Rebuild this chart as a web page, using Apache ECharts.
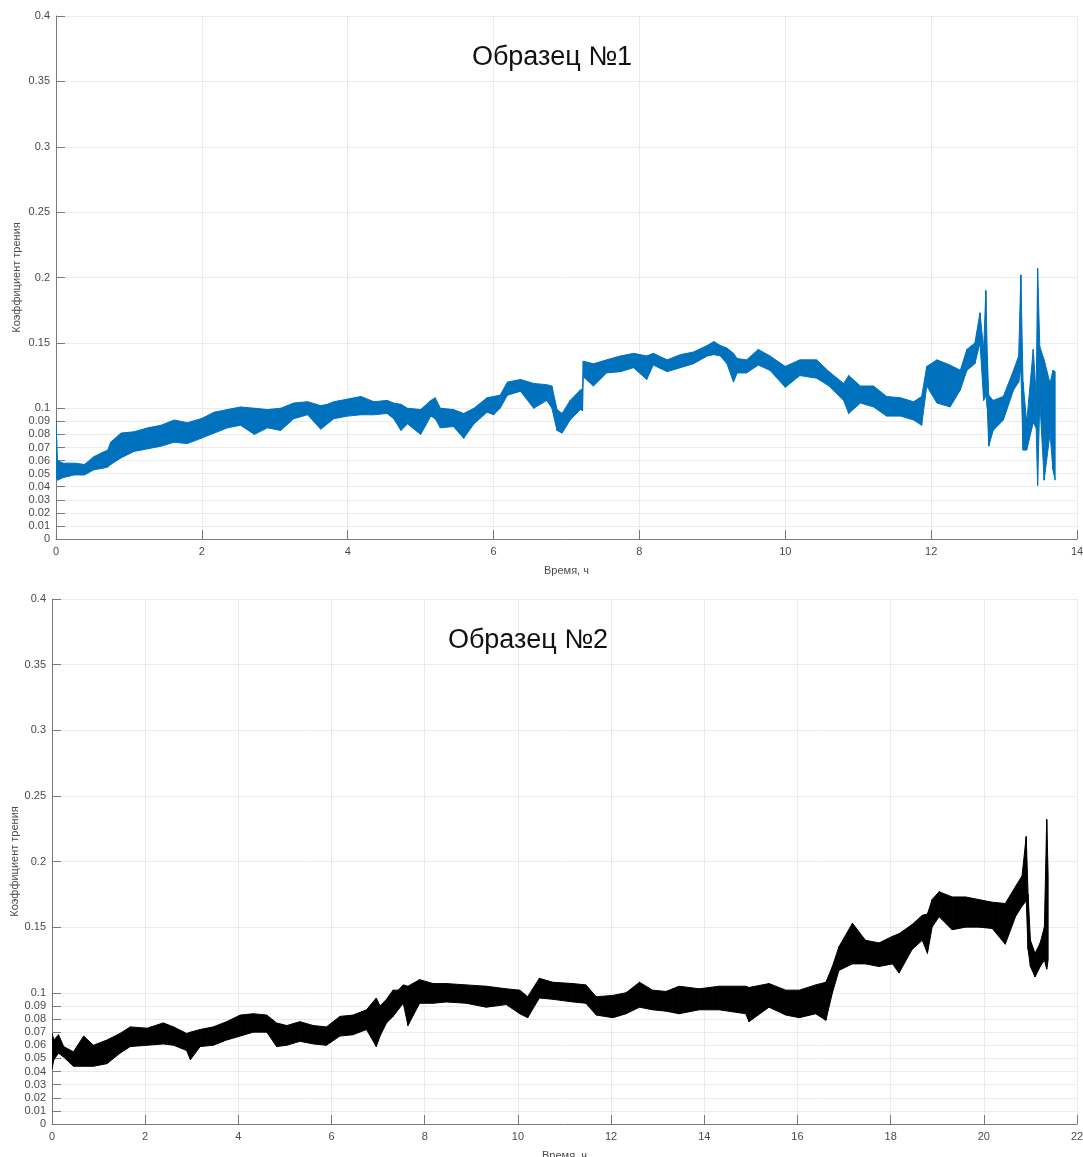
<!DOCTYPE html>
<html>
<head>
<meta charset="utf-8">
<script src="https://cdn.jsdelivr.net/npm/echarts@6/dist/echarts.min.js"></script>
<style>
  html, body { margin: 0; padding: 0; background: #fff; }
  #chart { width: 1083px; height: 1157px; }
</style>
</head>
<body>
<div id="chart"></div>
<script>
// Friction coefficient records: [time (h), lower envelope, upper envelope]
const sample1 = [
  [0.00, 0.047, 0.091], [0.02, 0.045, 0.060], [0.10, 0.047, 0.058], [0.25, 0.049, 0.058],
  [0.39, 0.049, 0.057], [0.52, 0.053, 0.063], [0.63, 0.054, 0.066], [0.71, 0.055, 0.068],
  [0.75, 0.057, 0.074], [0.89, 0.062, 0.081], [1.07, 0.067, 0.082], [1.26, 0.069, 0.085],
  [1.44, 0.071, 0.087], [1.62, 0.074, 0.091], [1.80, 0.073, 0.089], [1.99, 0.077, 0.092],
  [2.17, 0.081, 0.097], [2.35, 0.085, 0.099], [2.53, 0.087, 0.101], [2.72, 0.080, 0.100],
  [2.90, 0.085, 0.099], [3.08, 0.083, 0.100], [3.26, 0.092, 0.104], [3.45, 0.095, 0.105],
  [3.63, 0.084, 0.102], [3.72, 0.088, 0.103], [3.81, 0.092, 0.105], [4.00, 0.094, 0.107],
  [4.18, 0.095, 0.109], [4.36, 0.095, 0.105], [4.54, 0.096, 0.106], [4.63, 0.092, 0.104],
  [4.73, 0.083, 0.103], [4.82, 0.088, 0.100], [5.00, 0.080, 0.099], [5.14, 0.094, 0.106],
  [5.20, 0.092, 0.108], [5.27, 0.085, 0.100], [5.45, 0.086, 0.099], [5.59, 0.077, 0.096],
  [5.73, 0.088, 0.100], [5.91, 0.097, 0.108], [6.00, 0.095, 0.109], [6.09, 0.100, 0.110],
  [6.19, 0.110, 0.120], [6.37, 0.113, 0.122], [6.55, 0.100, 0.119], [6.73, 0.106, 0.118],
  [6.80, 0.100, 0.117], [6.87, 0.083, 0.099], [6.94, 0.081, 0.096], [7.05, 0.091, 0.106],
  [7.19, 0.099, 0.114], [7.22, 0.098, 0.115], [7.23, 0.124, 0.136], [7.37, 0.117, 0.134],
  [7.55, 0.127, 0.137], [7.74, 0.128, 0.140], [7.92, 0.131, 0.142], [8.10, 0.122, 0.140],
  [8.19, 0.133, 0.142], [8.38, 0.128, 0.137], [8.56, 0.131, 0.141], [8.74, 0.134, 0.143],
  [8.93, 0.140, 0.148], [9.02, 0.141, 0.151], [9.11, 0.140, 0.148], [9.20, 0.134, 0.146],
  [9.29, 0.120, 0.142], [9.34, 0.127, 0.138], [9.47, 0.127, 0.137], [9.63, 0.133, 0.145],
  [9.79, 0.129, 0.140], [10.00, 0.116, 0.132], [10.20, 0.125, 0.137], [10.43, 0.123, 0.137],
  [10.60, 0.117, 0.128], [10.80, 0.106, 0.119], [10.87, 0.096, 0.125], [11.03, 0.104, 0.117],
  [11.21, 0.101, 0.117], [11.39, 0.094, 0.109], [11.58, 0.094, 0.108], [11.76, 0.091, 0.105],
  [11.87, 0.087, 0.109], [11.94, 0.117, 0.132], [12.08, 0.104, 0.137], [12.26, 0.101, 0.133],
  [12.40, 0.114, 0.129], [12.49, 0.129, 0.145], [12.60, 0.134, 0.150], [12.67, 0.150, 0.173],
  [12.72, 0.106, 0.145], [12.75, 0.110, 0.190], [12.77, 0.100, 0.140], [12.79, 0.071, 0.110],
  [12.85, 0.083, 0.106], [12.99, 0.091, 0.109], [13.13, 0.114, 0.129], [13.20, 0.120, 0.140],
  [13.23, 0.130, 0.202], [13.26, 0.068, 0.120], [13.31, 0.068, 0.089], [13.40, 0.089, 0.145],
  [13.44, 0.085, 0.110], [13.46, 0.041, 0.207], [13.49, 0.106, 0.147], [13.55, 0.045, 0.137],
  [13.63, 0.081, 0.119], [13.67, 0.053, 0.129], [13.70, 0.045, 0.128]
];

const sample2 = [
  [0.00, 0.042, 0.069], [0.04, 0.049, 0.064], [0.14, 0.054, 0.068], [0.25, 0.051, 0.059],
  [0.46, 0.044, 0.055], [0.68, 0.044, 0.067], [0.89, 0.044, 0.060], [1.18, 0.046, 0.064],
  [1.46, 0.054, 0.069], [1.68, 0.059, 0.074], [2.04, 0.060, 0.073], [2.39, 0.061, 0.077],
  [2.61, 0.060, 0.074], [2.89, 0.056, 0.069], [2.97, 0.049, 0.070], [3.18, 0.059, 0.072],
  [3.46, 0.060, 0.074], [3.75, 0.064, 0.078], [4.04, 0.067, 0.083], [4.32, 0.070, 0.084],
  [4.61, 0.070, 0.083], [4.82, 0.059, 0.077], [5.04, 0.060, 0.075], [5.32, 0.063, 0.078],
  [5.61, 0.061, 0.075], [5.89, 0.060, 0.074], [6.18, 0.067, 0.082], [6.46, 0.068, 0.083],
  [6.75, 0.072, 0.087], [6.96, 0.059, 0.096], [7.04, 0.067, 0.090], [7.18, 0.077, 0.095],
  [7.32, 0.082, 0.102], [7.43, 0.087, 0.102], [7.54, 0.092, 0.106], [7.64, 0.075, 0.105],
  [7.89, 0.092, 0.110], [8.18, 0.092, 0.107], [8.46, 0.093, 0.107], [8.89, 0.092, 0.106],
  [9.32, 0.089, 0.105], [9.75, 0.091, 0.103], [10.04, 0.084, 0.102], [10.21, 0.081, 0.097],
  [10.46, 0.096, 0.111], [10.75, 0.095, 0.108], [11.18, 0.093, 0.107], [11.46, 0.092, 0.106],
  [11.68, 0.083, 0.097], [12.04, 0.081, 0.098], [12.32, 0.084, 0.100], [12.61, 0.089, 0.108],
  [12.89, 0.087, 0.102], [13.18, 0.086, 0.101], [13.46, 0.084, 0.105], [13.89, 0.087, 0.103],
  [14.32, 0.087, 0.105], [14.89, 0.084, 0.105], [14.96, 0.078, 0.104], [15.39, 0.089, 0.107],
  [15.75, 0.083, 0.102], [16.04, 0.081, 0.102], [16.39, 0.084, 0.106], [16.61, 0.079, 0.108],
  [16.75, 0.100, 0.120], [16.89, 0.117, 0.135], [17.18, 0.122, 0.153], [17.46, 0.122, 0.140],
  [17.75, 0.120, 0.138], [18.04, 0.122, 0.143], [18.18, 0.115, 0.145], [18.46, 0.133, 0.152],
  [18.68, 0.140, 0.159], [18.79, 0.130, 0.160], [18.89, 0.150, 0.171], [19.04, 0.158, 0.177],
  [19.32, 0.148, 0.173], [19.61, 0.150, 0.173], [19.89, 0.150, 0.171], [20.18, 0.149, 0.169],
  [20.46, 0.137, 0.168], [20.68, 0.158, 0.181], [20.82, 0.166, 0.189], [20.91, 0.170, 0.219],
  [20.95, 0.133, 0.175], [21.00, 0.120, 0.140], [21.10, 0.112, 0.130], [21.21, 0.120, 0.138],
  [21.30, 0.125, 0.150], [21.35, 0.118, 0.232], [21.38, 0.125, 0.190]
];

const yTicks = [0, 0.01, 0.02, 0.03, 0.04, 0.05, 0.06, 0.07, 0.08, 0.09, 0.1,
                0.15, 0.2, 0.25, 0.3, 0.35, 0.4];
const titles = ['Образец №1', 'Образец №2'];
const xName = 'Время, ч';
const yName = 'Коэффициент трения';
const xMax = [14, 22];
const yNameGap = [34, 32];

const FONT = 'Arial, "Liberation Sans", Helvetica, sans-serif';
const AXIS = '#7a7a7a';
const GRID = '#ebebeb';
const LABEL = '#4a4a4a';

function xAxisCfg(idx) {
  return {
    type: 'value', gridIndex: idx, min: 0, max: xMax[idx], interval: 2,
    name: xName, nameLocation: 'middle', nameGap: 26,
    nameTextStyle: { color: LABEL, fontSize: 11, fontFamily: FONT },
    axisLine: { show: true, onZero: false, lineStyle: { color: AXIS, width: 1 } },
    axisTick: { show: true, inside: true, length: 9, lineStyle: { color: AXIS } },
    axisLabel: { color: LABEL, fontSize: 11, fontFamily: FONT, margin: 7 },
    splitLine: { show: true, lineStyle: { color: GRID, width: 1 } }
  };
}

function yAxisCfg(idx) {
  return {
    type: 'value', gridIndex: idx, min: 0, max: 0.4,
    name: yName, nameLocation: 'middle', nameGap: yNameGap[idx], nameRotate: 90,
    nameMoveOverlap: false,
    nameTextStyle: { color: LABEL, fontSize: 11, fontFamily: FONT },
    axisLine: { show: true, onZero: false, lineStyle: { color: AXIS, width: 1 } },
    axisTick: { show: true, inside: true, length: 9, customValues: yTicks, lineStyle: { color: AXIS } },
    axisLabel: {
      color: LABEL, fontSize: 11, fontFamily: FONT, margin: 6, customValues: yTicks,
      formatter: v => String(+(+v).toFixed(2))
    },
    splitLine: { show: true, lineStyle: { color: GRID, width: 1 } }
  };
}

// Envelope band: one filled quad between each pair of consecutive records
function bandSeries(idx, rows, color) {
  return {
    type: 'custom', xAxisIndex: idx, yAxisIndex: idx,
    data: rows, encode: { x: 0, y: [1, 2] },
    clip: true, silent: true, animation: false, z: 3,
    renderItem: function (params, api) {
      const i = params.dataIndex;
      if (i >= rows.length - 1) return null;
      const a = rows[i], b = rows[i + 1];
      return {
        type: 'polygon',
        shape: { points: [
          api.coord([a[0], a[1]]), api.coord([a[0], a[2]]),
          api.coord([b[0], b[2]]), api.coord([b[0], b[1]])
        ] },
        style: { fill: color, stroke: color, lineWidth: 1 }
      };
    }
  };
}

const chart = echarts.init(document.getElementById('chart'), null, { renderer: 'canvas' });
chart.setOption({
  backgroundColor: '#fff',
  animation: false,
  grid: [
    { left: 56, width: 1021, top: 16, height: 523, outerBoundsMode: 'none', containLabel: false },
    { left: 52, width: 1025, top: 599, height: 525, outerBoundsMode: 'none', containLabel: false }
  ],
  xAxis: [xAxisCfg(0), xAxisCfg(1)],
  yAxis: [yAxisCfg(0), yAxisCfg(1)],
  graphic: [
    { type: 'text', x: 552, y: 58, z: 10,
      style: { text: titles[0], fill: '#111', font: '27px ' + FONT, textAlign: 'center', textVerticalAlign: 'middle' } },
    { type: 'text', x: 528, y: 641, z: 10,
      style: { text: titles[1], fill: '#111', font: '27px ' + FONT, textAlign: 'center', textVerticalAlign: 'middle' } }
  ],
  series: [
    bandSeries(0, sample1, '#0072BD'),
    bandSeries(1, sample2, '#000000')
  ]
});
</script>
</body>
</html>
